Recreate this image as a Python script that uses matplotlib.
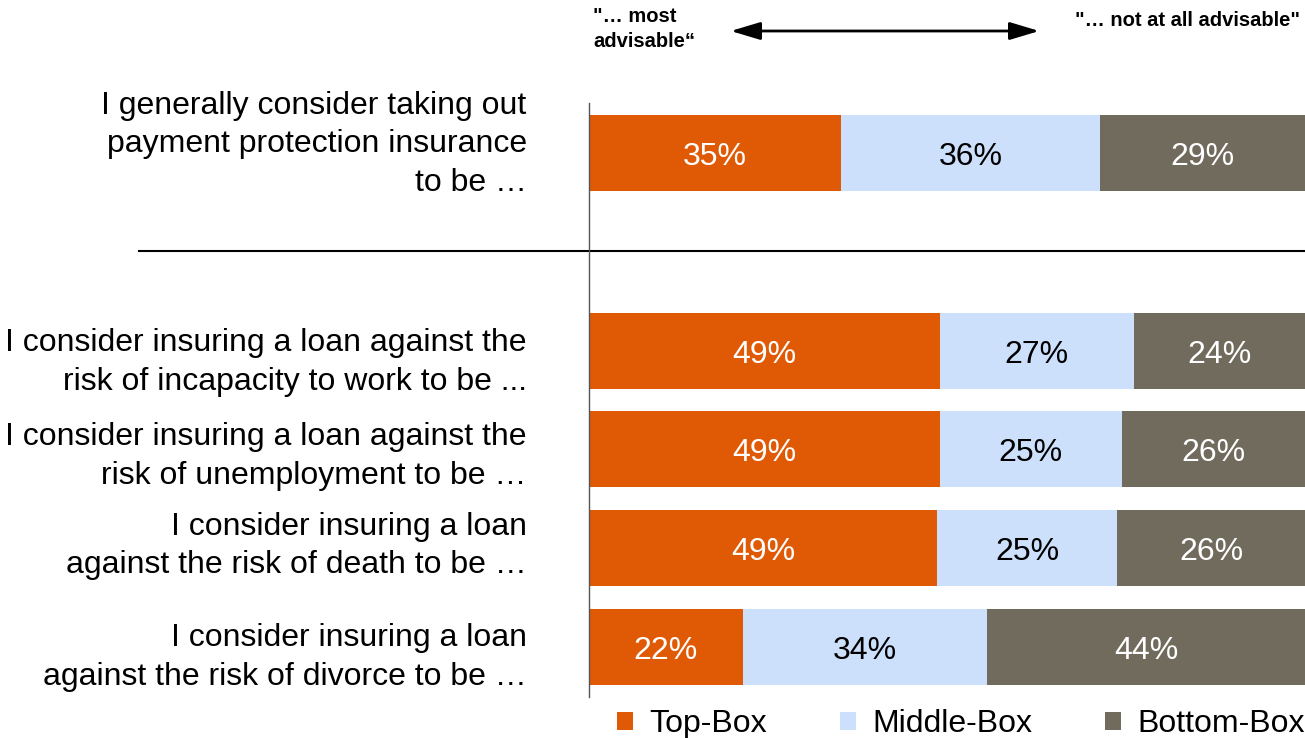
import numpy as np
import matplotlib.pyplot as plt
from matplotlib.patches import FancyArrowPatch

plt.rcParams['font.family'] = ['Liberation Sans', 'DejaVu Sans']

questions = [
    'I generally consider taking out\npayment protection insurance\nto be \u2026',
    'I consider insuring a loan against the\nrisk of incapacity to work to be ...',
    'I consider insuring a loan against the\nrisk of unemployment to be \u2026',
    'I consider insuring a loan\nagainst the risk of death to be \u2026',
    'I consider insuring a loan\nagainst the risk of divorce to be \u2026',
]
ypos = [0, 2, 3, 4, 5]
top_box = [35.2, 49.0, 49.0, 48.6, 21.5]
middle_box = [36.2, 27.1, 25.4, 25.2, 34.1]
bottom_box = [28.6, 23.9, 25.6, 26.2, 44.4]
series_names = ['Top-Box', 'Middle-Box', 'Bottom-Box']
colors = ['#E05A05', '#CCE0FC', '#716B5E']
text_colors = ['white', 'black', 'white']

# small vertical nudges of the question labels (layout only)
label_dy = [-0.09, 0.12, 0.07, -0.02, 0.11]

fig = plt.figure(figsize=(13.05, 7.38), dpi=100)
ax = fig.add_axes([589 / 1305, 1 - 697 / 738, 1 - 589 / 1305, (697 - 103) / 738])

left = np.zeros(len(ypos))
handles = []
for vals, name, c, tc in zip([top_box, middle_box, bottom_box], series_names, colors, text_colors):
    vals = np.array(vals)
    b = ax.barh(ypos, vals, left=left, height=0.77, color=c, label=name)
    handles.append(b)
    for y, l, v in zip(ypos, left, vals):
        ax.text(l + v / 2, y + 0.04, '%d%%' % round(v), ha='center', va='center',
                color=tc, fontsize=23)
    left += vals

ax.set_xlim(0, 100)
ax.set_ylim(5.51, -0.51)
ax.set_xticks([])
ax.set_yticks([])
for s in ['top', 'right', 'bottom']:
    ax.spines[s].set_visible(False)
ax.spines['left'].set_color('#555555')
ax.spines['left'].set_linewidth(1.0)

# separator between general and specific questions
ax.plot([-62.8, 100], [0.985, 0.985], color='black', lw=1.5, clip_on=False)

for q, y, dy in zip(questions, ypos, label_dy):
    ax.text(-8.7, y + dy, q, ha='right', va='center', fontsize=23,
            linespacing=1.38)

# header
fig.text(593 / 1305, 1 - 7 / 738, '"\u2026 most\nadvisable\u201c', ha='left', va='top',
         fontsize=14.5, fontweight='bold', linespacing=1.4)
fig.text(1300 / 1305, 1 - 20 / 738, '"\u2026 not at all advisable"', ha='right', va='center',
         fontsize=14.5, fontweight='bold')
arr = FancyArrowPatch((728 / 1305, 1 - 31 / 738), (1042 / 1305, 1 - 31 / 738),
                      transform=fig.transFigure,
                      arrowstyle='<|-|>,head_length=0.6,head_width=0.18',
                      mutation_scale=30, color='black', lw=2)
fig.patches.append(arr)

fig.legend(handles=handles, loc='center left', bbox_to_anchor=(617 / 1305, 1 - 724 / 738),
           ncol=3, frameon=False, fontsize=23, handlelength=0.5, handleheight=0.5,
           handletextpad=0.5, columnspacing=2.3, borderpad=0, borderaxespad=0)

fig.savefig('out.png', dpi=100)
